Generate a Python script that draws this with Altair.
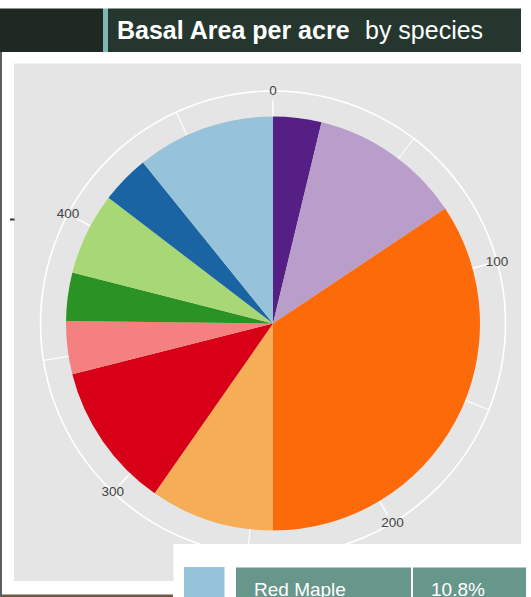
import math
import altair as alt
import pandas as pd

# ---------------- data ----------------
species = ["Black Cherry", "White Oak", "Northern Red Oak", "Chestnut Oak",
           "Scarlet Oak", "Sugar Maple", "Black Birch", "Yellow Poplar",
           "White Pine", "Red Maple"]
basal_area = [18.2, 57.3, 166.0, 46.8, 54.9, 20.0, 18.2, 31.0, 18.4, 52.2]
colors = ["#561f85", "#b99dcb", "#fc6a0a", "#f6ae56", "#d70016",
          "#f58080", "#2a9324", "#a7d875", "#1a64a3", "#97c3da"]
tick_values = [0, 100, 200, 300, 400]
tick_labels = ["0", "100", "200", "300", "400"]
minor_values = [50, 150, 250, 350, 450]
axis_max = 483
title_bold = "Basal Area per acre"
title_rest = "by species"
legend_species = "Red Maple"

# ---------------- derived tables ----------------
starts, ends, acc = [], [], 0.0
for v in basal_area:
    starts.append(acc)
    acc += v
    ends.append(acc)
total = acc
pie_df = pd.DataFrame({"species": species, "value": basal_area,
                       "start": starts, "end": ends})
ticks_df = pd.DataFrame({"tick": tick_values, "label": tick_labels})
minor_df = pd.DataFrame({"tick": minor_values})
leg_idx = species.index(legend_species)
legend_pct = f"{basal_area[leg_idx] / total * 100:.1f}%"
dummy = pd.DataFrame({"k": [0]})

# ---------------- layout ----------------
W, H = 531, 597
CX, CY = 273, 323.5
R = 207
RING = 232.5
FONT = "Liberation Sans"

theta_scale = alt.Scale(domain=[0, axis_max], range=[0, 2 * math.pi])
cx, cy = alt.value(CX), alt.value(CY)


def box(x1, y1, x2, y2, color):
    return alt.Chart(dummy).mark_rect(color=color).encode(
        x=alt.value(x1), x2=alt.value(x2), y=alt.value(y1), y2=alt.value(y2))


def label(x, y, txt, size, color, weight="normal", align="left"):
    return alt.Chart(dummy).mark_text(
        text=txt, fontSize=size, color=color, font=FONT, fontWeight=weight,
        align=align, baseline="alphabetic").encode(x=alt.value(x), y=alt.value(y))


layers = [
    # header bar
    box(0, 8.5, 103, 52, "#1e2924"),
    box(103, 8.5, 108, 52, "#80b7b2"),
    box(108, 8.5, 521, 52, "#25362f"),
    label(117, 39, title_bold, 25, "white", "bold"),
    label(365, 39, title_rest, 25, "white"),
    # page frame
    box(0, 52, 2, 597, "#5e5e5e"),
    box(14, 63.5, 521, 581, "#e5e5e5"),
    box(10, 218.5, 14.5, 220.5, "#333333"),
    box(2, 594.5, 173, 597, "#6b5a48"),
]

ring = alt.Chart(dummy).mark_arc(
    theta=0, theta2=2 * math.pi, radius=RING + 0.8, radius2=RING - 0.8,
    color="white").encode(x=cx, y=cy)

minor = alt.Chart(minor_df).mark_arc(
    radius=RING, radius2=150, fill=None, stroke="white", strokeWidth=0.8
).encode(theta=alt.Theta("tick:Q", scale=theta_scale, stack=False),
         theta2=alt.Theta2("tick"), x=cx, y=cy)

major = alt.Chart(ticks_df).mark_arc(
    radius=223, radius2=150, fill=None, stroke="white", strokeWidth=1.5
).encode(theta=alt.Theta("tick:Q", scale=theta_scale, stack=False),
         theta2=alt.Theta2("tick"), x=cx, y=cy)

pie = alt.Chart(pie_df).mark_arc(radius=R).encode(
    theta=alt.Theta("start:Q", scale=theta_scale, stack=False),
    theta2=alt.Theta2("end"),
    color=alt.Color("species:N", scale=alt.Scale(domain=species, range=colors),
                    legend=None),
    x=cx, y=cy)

tick_text = alt.Chart(ticks_df).mark_text(
    radius=RING, fontSize=13.5, color="#444444", font=FONT,
    align="center", baseline="middle"
).encode(theta=alt.Theta("tick:Q", scale=theta_scale, stack=False),
         text="label:N", x=cx, y=cy)

legend_layers = [
    box(173.5, 544, 531, 597, "white"),
    box(184, 567, 224.5, 597, colors[leg_idx]),
    box(236, 567.5, 411, 597, "#67968a"),
    box(413, 567.5, 526, 597, "#67968a"),
    label(254, 595.5, legend_species, 19, "white"),
    label(431, 595.5, legend_pct, 19, "white"),
]

chart = alt.layer(
    *layers, ring, minor, major, pie, tick_text, *legend_layers
).properties(
    width=W, height=H, padding=0, autosize="none", background="white"
).configure_view(stroke=None)

chart.save("out.html", embed_options={"renderer": "svg", "actions": False})
